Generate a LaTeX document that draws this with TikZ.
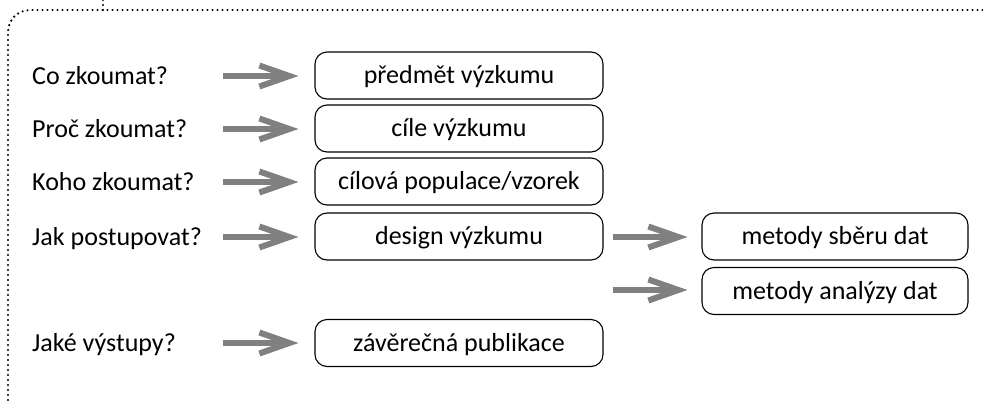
\documentclass[tikz,border=0pt]{standalone}
\usepackage{fontspec}
\setmainfont{Carlito}
\usetikzlibrary{arrows.meta}
\definecolor{arrgray}{RGB}{128,128,128}
\tikzset{
  txt/.style={font=\fontsize{26}{30}\selectfont, inner sep=0pt, text height=16.7pt, text depth=0pt},
  qlabel/.style={txt, anchor=west},
  abox/.style={txt, draw, line width=1.1pt, rounded corners=12pt, minimum width=288pt, minimum height=47pt},
  rbox/.style={abox, minimum width=266pt},
  garrow/.style={draw=arrgray, line width=6pt, -{Straight Barb[length=30pt,width=21pt]}},
  dotframe/.style={line width=2.4pt, dash pattern=on 0pt off 5pt, line cap=round}
}
\begin{document}
\begin{tikzpicture}[x=1pt,y=-1pt]
\clip (0,0) rectangle (983,400);
% frame
\draw[dotframe, rounded corners=22pt] (8,430) -- (8,10) -- (1005,10) -- (1005,430);
\coordinate (tickTop) at (103,0);
\coordinate (tickBot) at (103,10);
\draw[dotframe] (tickTop) -- (tickBot);
% labels
\node[qlabel] (q1) at (32,76) {Co zkoumat?};
\node[qlabel] (q2) at (32,129) {Proč zkoumat?};
\node[qlabel] (q3) at (32,182) {Koho zkoumat?};
\node[qlabel] (q4) at (32,237) {Jak postupovat?};
\node[qlabel] (q6) at (32,343) {Jaké výstupy?};
% boxes
\node[abox] (b1) at (459,75.5) {předmět výzkumu};
\node[abox] (b2) at (459,128.5) {cíle výzkumu};
\node[abox] (b3) at (459,181.5) {cílová populace/vzorek};
\node[abox] (b4) at (459,236.5) {design výzkumu};
\node[abox] (b6) at (459,343) {závěrečná publikace};
\node[rbox] (c1) at (835,236.5) {metody sběru dat};
\node[rbox] (c2) at (835,291) {metody analýzy dat};
% arrow starts
\coordinate (s1) at (223,76);
\coordinate (s2) at (223,129);
\coordinate (s3) at (223,182);
\coordinate (s4) at (223,237);
\coordinate (s6) at (223,343);
\coordinate (t1) at (613,237);
\coordinate (t2) at (613,290);
% arrows
\draw[garrow] (s1) -- ([xshift=-16pt]b1.west|-s1);
\draw[garrow] (s2) -- ([xshift=-16pt]b2.west|-s2);
\draw[garrow] (s3) -- ([xshift=-16pt]b3.west|-s3);
\draw[garrow] (s4) -- ([xshift=-16pt]b4.west|-s4);
\draw[garrow] (s6) -- ([xshift=-16pt]b6.west|-s6);
\draw[garrow] (t1) -- ([xshift=-14pt]c1.west|-t1);
\draw[garrow] (t2) -- ([xshift=-14pt]c2.west|-t2);
\end{tikzpicture}
\end{document}
